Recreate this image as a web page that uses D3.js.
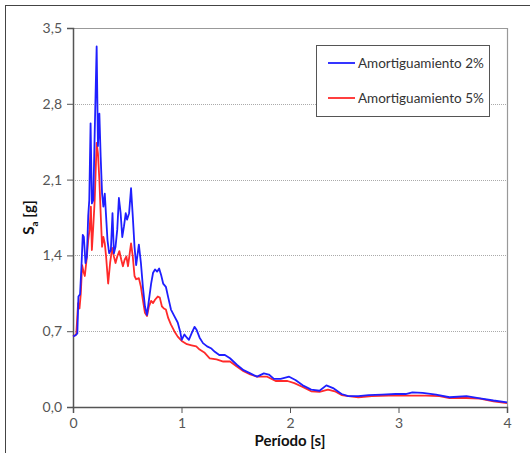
<!DOCTYPE html>
<html>
<head>
<meta charset="utf-8">
<script src="https://cdn.jsdelivr.net/npm/d3@7"></script>
<style>
  html, body { margin: 0; padding: 0; background: #fff; }
  svg { display: block; font-family: "Lato", "Open Sans", sans-serif; }
</style>
</head>
<body>
<svg id="chart" width="530" height="453"></svg>
<script>
// Spectral acceleration Sa [g] versus period T [s]
const periods2 = [0,0.02,0.04,0.05,0.065,0.078,0.09,0.10,0.115,0.128,0.14,0.15,0.162,0.174,0.187,0.2,0.218,0.23,0.243,0.255,0.268,0.28,0.293,0.305,0.318,0.333,0.349,0.364,0.377,0.392,0.408,0.423,0.439,0.454,0.47,0.486,0.498,0.517,0.535,0.551,0.567,0.582,0.607,0.626,0.644,0.663,0.682,0.70,0.72,0.738,0.756,0.775,0.794,0.812,0.831,0.856,0.878,0.903,0.934,0.965,0.987,1.002,1.027,1.05,1.068,1.093,1.12,1.14,1.167,1.198,1.236,1.276,1.307,1.348,1.40,1.447,1.51,1.572,1.634,1.697,1.759,1.805,1.852,1.914,1.992,2.05,2.117,2.195,2.272,2.335,2.397,2.475,2.537,2.63,2.724,2.848,2.973,3.066,3.128,3.222,3.346,3.47,3.626,3.751,3.875,4.0];
const sa2 = [0.652,0.66,0.68,1.02,1.04,1.30,1.59,1.57,1.33,1.39,1.76,1.91,2.62,1.88,1.91,2.53,3.33,2.41,2.71,2.31,1.97,1.85,1.97,1.76,1.54,1.42,1.45,1.79,1.42,1.48,1.64,1.93,1.79,1.57,1.67,1.79,1.73,1.79,2.02,1.76,1.48,1.31,1.50,1.33,1.11,0.93,0.85,0.99,1.14,1.24,1.27,1.25,1.28,1.22,1.14,1.11,1.01,0.90,0.84,0.78,0.70,0.62,0.67,0.64,0.62,0.68,0.74,0.71,0.64,0.59,0.56,0.54,0.51,0.48,0.48,0.45,0.39,0.34,0.31,0.28,0.31,0.30,0.26,0.26,0.28,0.25,0.20,0.16,0.15,0.20,0.175,0.12,0.10,0.10,0.11,0.115,0.12,0.12,0.135,0.13,0.115,0.09,0.10,0.08,0.06,0.043];

const periods5 = [0,0.03,0.047,0.06,0.072,0.084,0.097,0.109,0.125,0.14,0.153,0.165,0.174,0.187,0.2,0.218,0.23,0.243,0.255,0.268,0.28,0.293,0.305,0.324,0.342,0.361,0.377,0.392,0.408,0.427,0.445,0.46,0.476,0.492,0.507,0.523,0.535,0.551,0.567,0.582,0.607,0.626,0.644,0.663,0.682,0.70,0.72,0.738,0.756,0.781,0.80,0.819,0.837,0.856,0.878,0.903,0.934,0.965,1.002,1.05,1.093,1.136,1.167,1.214,1.26,1.323,1.385,1.447,1.51,1.572,1.634,1.697,1.79,1.868,1.977,2.04,2.117,2.195,2.272,2.35,2.413,2.475,2.537,2.63,2.755,2.91,3.066,3.253,3.377,3.47,3.626,3.751,3.875,4.0];
const sa5 = [0.652,0.67,0.96,0.91,1.05,1.31,1.25,1.21,1.36,1.54,1.64,1.85,1.45,1.67,1.91,2.44,2.34,2.10,1.79,1.48,1.57,1.51,1.39,1.14,1.33,1.47,1.39,1.33,1.39,1.44,1.36,1.30,1.36,1.39,1.30,1.42,1.51,1.39,1.21,1.18,1.19,1.11,0.99,0.87,0.84,0.93,0.98,0.96,0.99,1.02,1.01,0.93,0.91,0.90,0.82,0.76,0.70,0.65,0.61,0.58,0.57,0.56,0.53,0.50,0.45,0.44,0.42,0.42,0.375,0.33,0.30,0.28,0.28,0.24,0.24,0.22,0.185,0.145,0.14,0.16,0.145,0.11,0.10,0.09,0.10,0.105,0.105,0.105,0.10,0.083,0.083,0.077,0.052,0.037];

const seriesNames = ["Amortiguamiento 2%", "Amortiguamiento 5%"];
const seriesColors = ["#1f1fff", "#ff2a2a"];
const xTicks = [0, 1, 2, 3, 4];
const yTicks = [0, 0.7, 1.4, 2.1, 2.8, 3.5];

const svg = d3.select("#chart");
const margin = { left: 73, right: 23, top: 28, bottom: 46 };
const W = 530, H = 453;
const x = d3.scaleLinear().domain([0, 4]).range([margin.left, W - margin.right]);
const y = d3.scaleLinear().domain([0, 3.5]).range([H - margin.bottom, margin.top]);

// outer frame
svg.append("rect").attr("x", 5.5).attr("y", 5.5).attr("width", 540).attr("height", 460)
  .attr("fill", "none").attr("stroke", "#444").attr("stroke-width", 1);

// dotted gridlines
svg.append("g").selectAll("line").data(yTicks.filter(d => d > 0 && d < 3.5)).join("line")
  .attr("x1", x(0)).attr("x2", x(4))
  .attr("y1", d => Math.round(y(d)) + 0.5).attr("y2", d => Math.round(y(d)) + 0.5)
  .attr("stroke", "#aaa").attr("stroke-dasharray", "1,1");

// plot border (top and right)
svg.append("path")
  .attr("d", `M${x(0)},${Math.round(y(3.5)) + 0.5}H${Math.round(x(4)) + 0.5}V${y(0)}`)
  .attr("fill", "none").attr("stroke", "#999").attr("stroke-width", 1.2);

const fmt = d => d3.format(".1f")(d).replace(".", ",");

const yAxis = svg.append("g").attr("transform", `translate(${x(0)},0)`)
  .call(d3.axisLeft(y).tickValues(yTicks).tickFormat(fmt).tickSize(6).tickPadding(5));
const xAxis = svg.append("g").attr("transform", `translate(0,${y(0)})`)
  .call(d3.axisBottom(x).tickValues(xTicks).tickFormat(d3.format("d")).tickSize(6).tickPadding(5));
[yAxis, xAxis].forEach(a => {
  a.select(".domain").attr("stroke", "#555").attr("stroke-width", 1.5);
  a.selectAll(".tick line").attr("stroke", "#555");
  a.selectAll(".tick text").attr("fill", "#555").style("font-size", "14px")
    .style("font-family", "Lato, 'Open Sans', sans-serif");
});

// curves
const line = d3.line().x(d => x(d[0])).y(d => y(d[1]));
const series = [d3.zip(periods2, sa2), d3.zip(periods5, sa5)];
[1, 0].forEach(i => {
  svg.append("path").datum(series[i])
    .attr("d", line).attr("fill", "none")
    .attr("stroke", seriesColors[i]).attr("stroke-width", 1.8)
    .attr("stroke-linejoin", "round");
});

// axis titles
svg.append("text").attr("x", x(2)).attr("y", 446).attr("text-anchor", "middle")
  .style("font-size", "15px").style("font-weight", "bold").attr("fill", "#111")
  .text("Período [s]");
const yt = svg.append("text").attr("transform", `translate(34,${y(1.75)}) rotate(-90)`)
  .attr("text-anchor", "middle").style("font-size", "15px").style("font-weight", "bold").attr("fill", "#111");
yt.append("tspan").text("S");
yt.append("tspan").attr("dy", 4).style("font-size", "10px").text("a");
yt.append("tspan").attr("dy", -4).text(" [g]");

// legend
const lg = svg.append("g");
lg.append("rect").attr("x", 316.5).attr("y", 45.5).attr("width", 173).attr("height", 71)
  .attr("fill", "#fff").attr("stroke", "#555").attr("stroke-width", 1);
seriesNames.forEach((name, i) => {
  const ly = 63 + i * 35;
  lg.append("line").attr("x1", 328).attr("x2", 355).attr("y1", ly).attr("y2", ly)
    .attr("stroke", seriesColors[i]).attr("stroke-width", 1.8);
  lg.append("text").attr("x", 358).attr("y", ly + 5).style("font-size", "13.5px")
    .attr("fill", "#333").text(name);
});
</script>
</body>
</html>
